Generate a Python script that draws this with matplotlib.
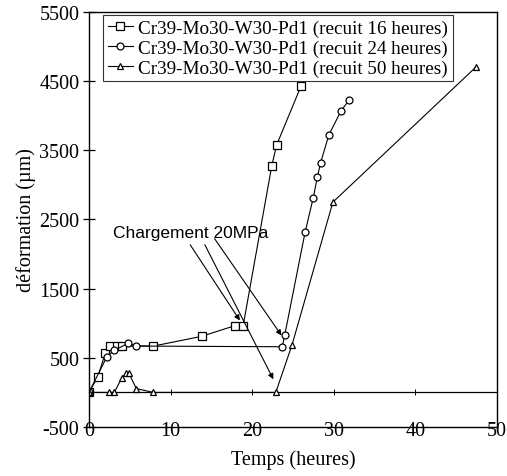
import matplotlib
matplotlib.use('Agg')
import matplotlib.pyplot as plt

plt.rcParams['font.family'] = ['Liberation Serif', 'DejaVu Serif']
plt.rcParams['axes.unicode_minus'] = False

# recuit 16 heures (squares)
t16 = [0, 1.1, 2.0, 2.6, 3.4, 4.0, 7.9, 13.8, 17.9, 18.9, 22.4, 23.0, 26.0]
d16 = [0, 230, 570, 670, 670, 670, 670, 810, 965, 965, 3270, 3575, 4430]

# recuit 24 heures (circles)
t24 = [0, 2.2, 3.1, 4.8, 5.8, 23.7, 24.0, 26.5, 27.5, 28.0, 28.4, 29.4, 30.9, 31.9]
d24 = [0, 517, 608, 710, 670, 660, 830, 2320, 2817, 3116, 3322, 3720, 4070, 4227]

# recuit 50 heures (triangles)
t50 = [0, 2.45, 3.1, 4.0, 4.5, 4.9, 5.8, 7.9, 22.9, 24.9, 29.9, 47.5]
d50 = [0, 0, 0, 203, 275, 275, 55, 0, 0, 690, 2750, 4710]

labels = ['Cr39-Mo30-W30-Pd1 (recuit 16 heures)',
          'Cr39-Mo30-W30-Pd1 (recuit 24 heures)',
          'Cr39-Mo30-W30-Pd1 (recuit 50 heures)']

# arrows "Chargement 20MPa": (start x, start y, end x, end y)
arrows = [(12.4, 2135, 18.5, 1040),
          (14.2, 2135, 22.6, 190),
          (15.4, 2222, 23.6, 823)]

fig = plt.figure(figsize=(5.07, 4.77), dpi=100)
ax = fig.add_axes([0.1755, 0.1027, 0.8045, 0.8703])

ax.plot(t16, d16, color='black', lw=0.8, marker='s', ms=5.5, mfc='white', mec='black', mew=0.9, label=labels[0])
ax.plot(t24, d24, color='black', lw=0.8, marker='o', ms=5, mfc='white', mec='black', mew=0.9, label=labels[1])
ax.plot(t50, d50, color='black', lw=0.8, marker='^', ms=5, mfc='white', mec='black', mew=0.9, label=labels[2])

for x0, y0, x1, y1 in arrows:
    ax.annotate('', xy=(x1, y1), xytext=(x0, y0),
                arrowprops=dict(arrowstyle='-|>', color='black', lw=0.8,
                                mutation_scale=8, shrinkA=0, shrinkB=0))

ax.text(2.9, 2246, 'Chargement 20MPa', family=['Liberation Sans', 'DejaVu Sans'],
        fontsize=12.5, va='baseline', ha='left')

ax.set_xlim(0, 50)
ax.set_ylim(-500, 5500)
ax.set_xticks([0, 10, 20, 30, 40, 50])
ax.set_yticks([-500, 500, 1500, 2500, 3500, 4500, 5500])

ax.tick_params(axis='y', direction='inout', length=8, width=0.9, labelsize=14.5, pad=3)
ax.tick_params(axis='x', length=0, labelsize=14.5, pad=-4)

# zero line with ticks
sec = ax.secondary_xaxis(500 / 6000)
sec.set_xticks([10, 20, 30, 40])
sec.tick_params(direction='inout', length=4, width=0.7, labelbottom=False)
sec.spines['bottom'].set_linewidth(0.9)

for s in ax.spines.values():
    s.set_linewidth(1.0)

ax.set_xlabel('Temps (heures)', fontsize=14.5, labelpad=6)
ax.set_ylabel('déformation (µm)', fontsize=14.5, labelpad=2)

leg = ax.legend(loc='upper left', bbox_to_anchor=(0.034, 0.993), fontsize=13.8,
                handlelength=1.3, handletextpad=0.3, borderaxespad=0, borderpad=0.25,
                labelspacing=0.12, fancybox=False, framealpha=1, edgecolor='#333333')
leg.get_frame().set_linewidth(0.8)

fig.savefig('out.png', dpi=100)
